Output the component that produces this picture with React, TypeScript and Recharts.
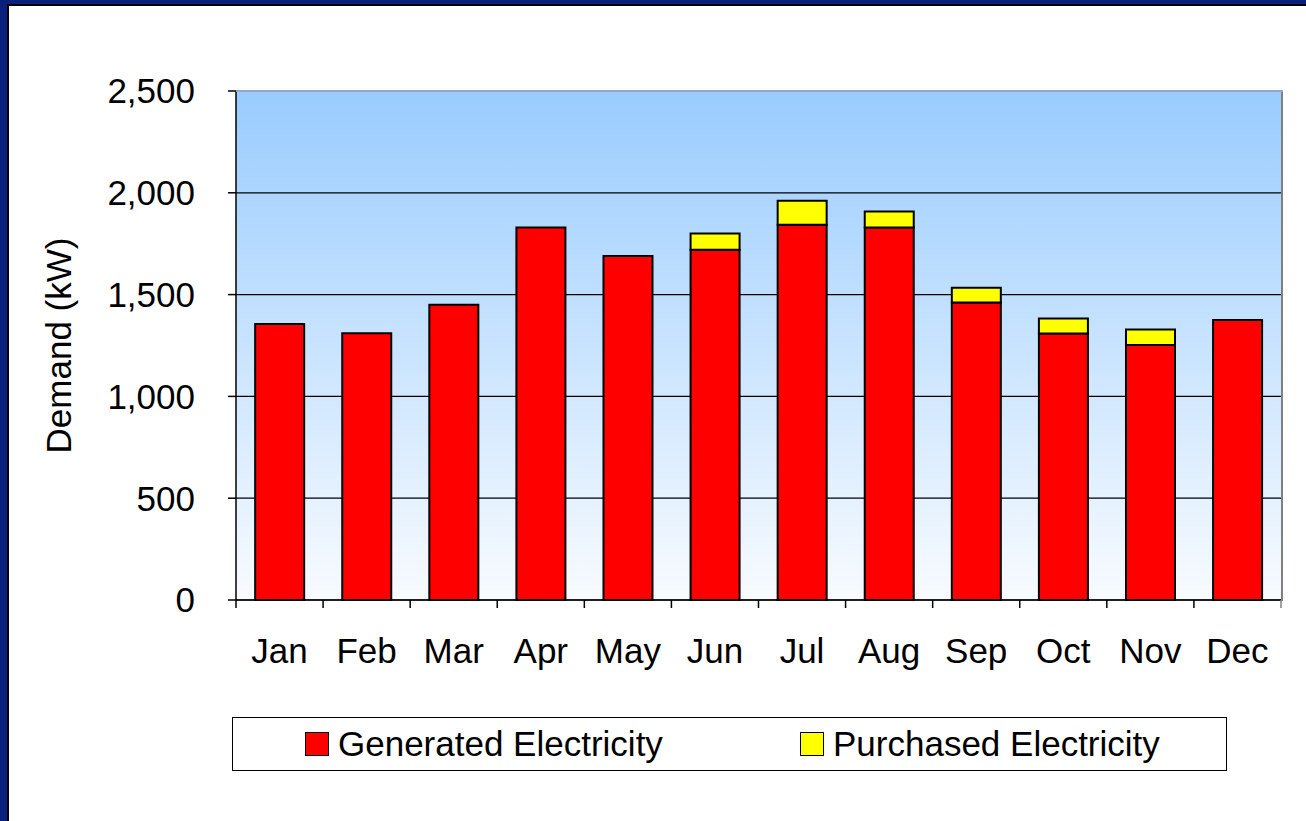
import React from 'react';
import { BarChart, Bar, XAxis, YAxis, CartesianGrid, Legend } from 'recharts';

const months = ['Jan', 'Feb', 'Mar', 'Apr', 'May', 'Jun', 'Jul', 'Aug', 'Sep', 'Oct', 'Nov', 'Dec'];
const generated = [1355, 1310, 1450, 1830, 1690, 1720, 1843, 1830, 1461, 1309, 1252, 1375];
const purchased = [0, 0, 0, 0, 0, 80, 118, 78, 73, 73, 77, 0];
const yTicks = [0, 500, 1000, 1500, 2000, 2500];

const data = months.map((m, i) => ({ month: m, generated: generated[i], purchased: purchased[i] }));

const FONT = 'Liberation Sans, Arial, sans-serif';
const FS = 35;

const XTick = (props: any) => {
  const { x, y, payload, index } = props;
  const off = payload.offset || 0;
  return (
    <g>
      <line x1={x - off} y1={y - 8} x2={x - off} y2={y} stroke="#000" strokeWidth={1.5} />
      {index === months.length - 1 && (
        <line x1={x + off} y1={y - 8} x2={x + off} y2={y} stroke="#808080" strokeWidth={1.5} />
      )}
      <text x={x} y={y + 55} textAnchor="middle" fontSize={FS} fontFamily={FONT} fill="#000">
        {payload.value}
      </text>
    </g>
  );
};

const fmt = (v: number) => v.toLocaleString('en-US');

const LegendBox = () => (
  <div
    style={{
      width: 995,
      height: 54,
      border: '1.5px solid #000',
      background: '#fff',
      boxSizing: 'border-box',
      position: 'relative',
      fontFamily: FONT,
      fontSize: FS,
      color: '#000',
    }}
  >
    {[
      { label: 'Generated Electricity', color: '#FF0000', left: 72 },
      { label: 'Purchased Electricity', color: '#FFFF00', left: 567 },
    ].map((it) => (
      <div key={it.label} style={{ position: 'absolute', left: it.left, top: 0, height: 52, display: 'flex', alignItems: 'center' }}>
        <div style={{ width: 22, height: 22, background: it.color, border: '1.5px solid #000', marginRight: 9 }} />
        <span style={{ lineHeight: '52px' }}>{it.label}</span>
      </div>
    ))}
  </div>
);

export default function App() {
  return (
    <div style={{ position: 'fixed', left: 0, top: 0, width: 1306, height: 821, background: '#fff', overflow: 'hidden' }}>
      <div style={{ position: 'absolute', left: 0, top: 0, width: 1306, height: 4, background: '#0B1F7C' }} />
      <div style={{ position: 'absolute', left: 0, top: 4, width: 1306, height: 1.5, background: '#000' }} />
      <div style={{ position: 'absolute', left: 0, top: 0, width: 7, height: 821, background: '#0B1F7C' }} />
      <div style={{ position: 'absolute', left: 7, top: 4, width: 1.5, height: 817, background: '#000' }} />
      <div style={{ position: 'absolute', left: 0, top: 0 }}>
        <BarChart
          width={1306}
          height={821}
          data={data}
          margin={{ top: 91, right: 25, left: 0, bottom: 0 }}
          barCategoryGap="22%"
        >
          <defs>
            <linearGradient id="bgGrad" x1="0" y1="0" x2="0" y2="1">
              <stop offset="0%" stopColor="#99CCFF" />
              <stop offset="100%" stopColor="#F8FBFF" />
            </linearGradient>
          </defs>
          <CartesianGrid
            vertical={false}
            stroke="#000"
            strokeWidth={1.2}
            fill="url(#bgGrad)"
            fillOpacity={1}
          />
          <XAxis
            dataKey="month"
            height={167}
            tickLine={false}
            axisLine={{ stroke: '#000', strokeWidth: 1.5 }}
            tick={<XTick />}
            interval={0}
          />
          <YAxis
            width={236}
            domain={[0, 2500]}
            ticks={yTicks}
            tickFormatter={fmt}
            tickSize={8}
            tickMargin={33}
            tickLine={{ stroke: '#000', strokeWidth: 1.5 }}
            axisLine={{ stroke: '#000', strokeWidth: 1.5 }}
            tick={{ fontSize: FS, fontFamily: FONT, fill: '#000' }}
            label={{
              value: 'Demand (kW)',
              angle: -90,
              position: 'insideLeft',
              dx: 54,
              style: { fontSize: FS, fontFamily: FONT, fill: '#000', textAnchor: 'middle' },
            }}
          />
          <Legend
            verticalAlign="bottom"
            content={<LegendBox />}
            wrapperStyle={{ position: 'absolute', left: 232, top: 717, width: 995, height: 54, bottom: 'auto' }}
          />
          <Bar dataKey="generated" name="Generated Electricity" stackId="a" fill="#FF0000" stroke="#000" strokeWidth={2} isAnimationActive={false} />
          <Bar dataKey="purchased" name="Purchased Electricity" stackId="a" fill="#FFFF00" stroke="#000" strokeWidth={2} isAnimationActive={false} />
        </BarChart>
      </div>
      <div style={{ position: 'absolute', left: 1281, top: 90, width: 2, height: 511, background: '#808080' }} />
      <div style={{ position: 'absolute', left: 236, top: 90, width: 1047, height: 1.5, background: '#8FA8C8' }} />
    </div>
  );
}
